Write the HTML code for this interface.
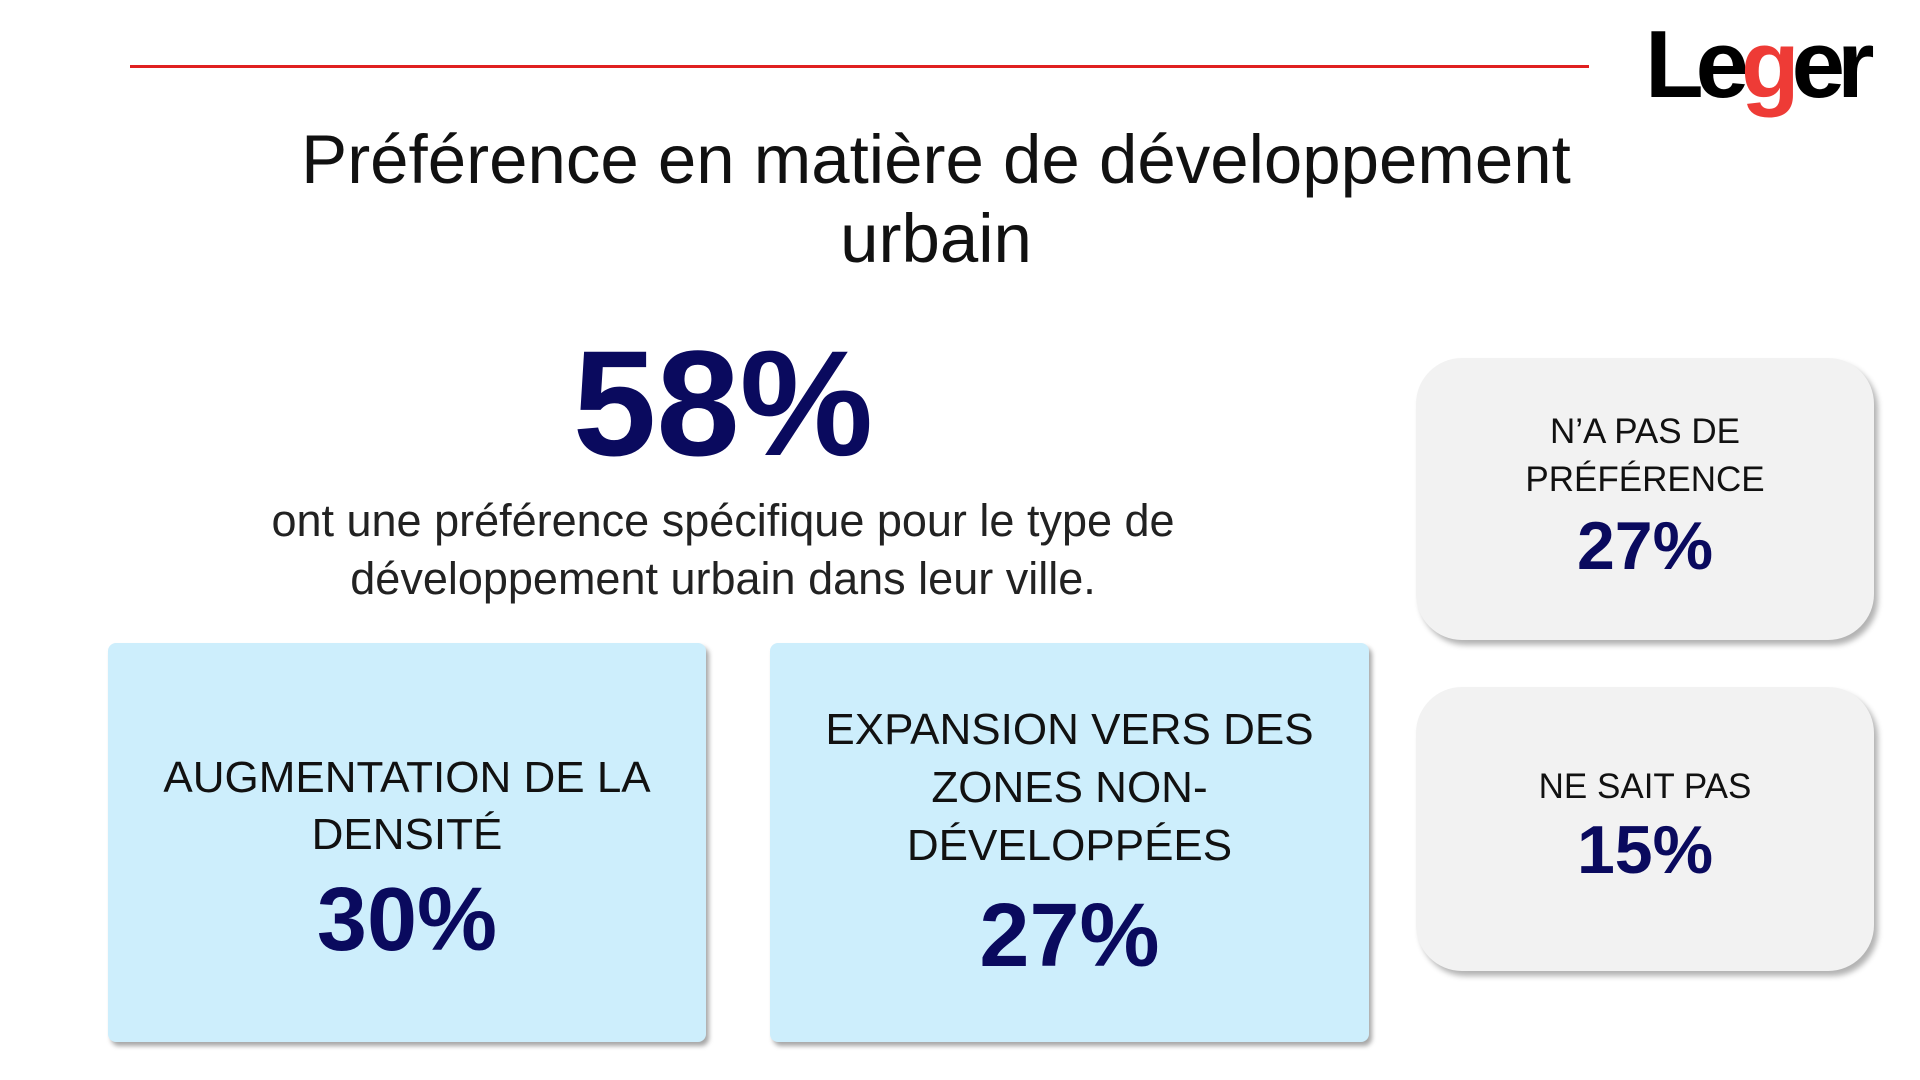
<!DOCTYPE html>
<html><head><meta charset="utf-8"><style>
body{margin:0;width:1920px;height:1080px;background:#fff;position:relative;overflow:hidden;font-family:"Liberation Sans","DejaVu Sans",sans-serif;}
.abs{position:absolute;}
.t{position:absolute;left:0;right:0;text-align:center;white-space:nowrap;}
.box{position:absolute;}
.blue{background:#cdeefc;border-radius:8px;box-shadow:3px 4px 5px rgba(0,0,0,0.35);}
.gray{background:#f2f2f2;border-radius:46px;box-shadow:4px 5px 6px rgba(0,0,0,0.3);}
.lab{color:#111;}
.num{color:#0a0a5e;font-weight:bold;}
</style></head><body>
<div class="abs" style="left:130px;top:65px;width:1459px;height:3px;background:#e02020"></div>
<div class="abs" style="left:1645px;top:17px;font-weight:bold;font-size:96px;letter-spacing:-8px;color:#000;line-height:1">Le<span style="color:#ee3b36">g</span>er</div>
<div class="t" style="left:120px;right:auto;width:1632px;top:120px;font-size:69px;line-height:79px;color:#111">Préférence en matière de développement<br>urbain</div>
<div class="t" style="left:423px;right:auto;width:600px;top:328px;font-size:150px;font-weight:bold;color:#0a0a5e;line-height:1">58%</div>
<div class="t" style="left:223px;right:auto;width:1000px;top:492px;font-size:45px;line-height:58px;color:#222">ont une préférence spécifique pour le type de<br>développement urbain dans leur ville.</div>

<div class="box blue" style="left:108px;top:643px;width:598px;height:399px">
<div class="t lab" style="top:106px;font-size:44px;line-height:57px">AUGMENTATION DE LA<br>DENSITÉ</div>
<div class="t num" style="top:232px;font-size:90px;line-height:1">30%</div>
</div>
<div class="box blue" style="left:770px;top:643px;width:599px;height:399px">
<div class="t lab" style="top:58px;font-size:44px;line-height:58px">EXPANSION VERS DES<br>ZONES NON-<br>DÉVELOPPÉES</div>
<div class="t num" style="top:248px;font-size:90px;line-height:1">27%</div>
</div>
<div class="box gray" style="left:1416px;top:358px;width:458px;height:282px">
<div class="t lab" style="top:50px;font-size:35px;line-height:48px">N’A PAS DE<br>PRÉFÉRENCE</div>
<div class="t num" style="top:154px;font-size:68px;line-height:1">27%</div>
</div>
<div class="box gray" style="left:1416px;top:687px;width:458px;height:284px">
<div class="t lab" style="top:76px;font-size:35px;line-height:48px">NE SAIT PAS</div>
<div class="t num" style="top:129px;font-size:68px;line-height:1">15%</div>
</div>
</body></html>
